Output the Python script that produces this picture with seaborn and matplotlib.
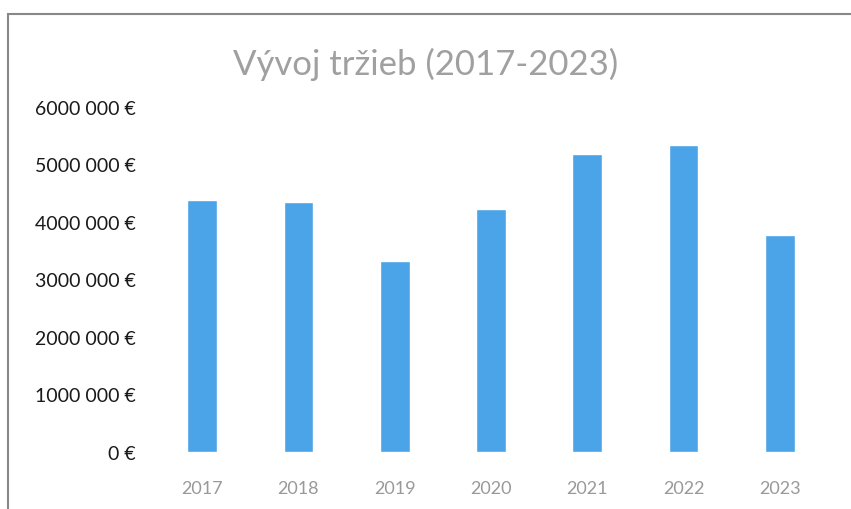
import matplotlib
matplotlib.use("Agg")
import matplotlib.pyplot as plt
import seaborn as sns
import pandas as pd
from matplotlib.patches import Rectangle

# data
years = ["2017", "2018", "2019", "2020", "2021", "2022", "2023"]
revenue = [4380000, 4340000, 3330000, 4220000, 5180000, 5340000, 3780000]
y_ticks = [0, 1000000, 2000000, 3000000, 4000000, 5000000, 6000000]
y_labels = ["0 €", "1000 000 €", "2000 000 €", "3000 000 €",
            "4000 000 €", "5000 000 €", "6000 000 €"]

df = pd.DataFrame({"rok": years, "trzby": revenue})

sns.set_theme(style="white")
plt.rcParams['font.family'] = ['Lato', 'DejaVu Sans']

fig = plt.figure(figsize=(8.51, 5.10), dpi=100)
ax = fig.add_axes([154 / 851, 1 - 453 / 510, (828 - 154) / 851, (453 - 108) / 510])

sns.barplot(data=df, x="rok", y="trzby", color="#4BA3E8", width=0.31,
            saturation=1, ax=ax)

ax.set_ylim(0, 6000000)
ax.set_xlim(-0.5, len(years) - 0.5)
ax.set_yticks(y_ticks)
ax.set_yticklabels(y_labels, fontsize=14, color="#1a1a1a")
ax.tick_params(axis="y", length=0, pad=13)
ax.tick_params(axis="x", length=0, pad=20, labelsize=13, labelcolor="#999999")
ax.set_xlabel("")
ax.set_ylabel("")
for s in ax.spines.values():
    s.set_visible(False)

fig.text(0.5, 1 - 64 / 510, "Vývoj tržieb (2017-2023)", ha="center", va="center",
         fontsize=25, color="#A0A0A0")

# outer frame like the screenshot
fig.patches.append(Rectangle((8 / 851, -0.01), 1.0, 1 - 15 / 510 + 0.01,
                             transform=fig.transFigure, fill=False,
                             edgecolor="#888888", linewidth=1.5))

fig.savefig("out.png", dpi=100)
